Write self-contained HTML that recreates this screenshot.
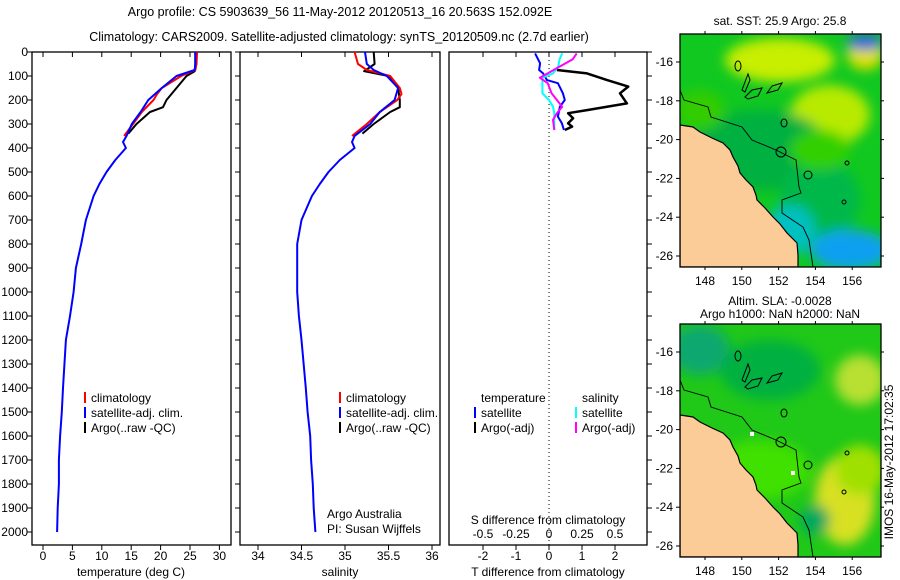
<!DOCTYPE html>
<html><head><meta charset="utf-8"><style>
body{margin:0;background:#fff;}
svg{display:block;font-family:"Liberation Sans",sans-serif;}
</style></head><body>
<svg id="c" width="900" height="580" viewBox="0 0 900 580" xmlns="http://www.w3.org/2000/svg">
<defs>
<clipPath id="mc1"><rect x="680" y="34" width="201" height="233"/></clipPath>
<clipPath id="mc2"><rect x="680" y="324" width="201" height="233"/></clipPath>
<filter id="bl" x="-20%" y="-20%" width="140%" height="140%"><feGaussianBlur stdDeviation="6"/></filter>
</defs>
<text x="340" y="16" font-size="12.5" text-anchor="middle">Argo profile: CS 5903639_56 11-May-2012 20120513_16 20.563S 152.092E</text>
<text x="339" y="41" font-size="12.5" text-anchor="middle">Climatology: CARS2009. Satellite-adjusted climatology: synTS_20120509.nc (2.7d earlier)</text>
<g id="g"></g>
</svg>
<script>
// ---- data ----
const depthBlue=[0,50,75,100,150,200,250,300,350,375,400,450,500,550,600,700,800,900,1000,1100,1200,1400,1500,1600,1700,1800,1900,2000];
const tempSat=[25.9,25.9,25.8,22.7,20.2,17.9,16.6,15.1,14.2,13.6,14.1,12.3,10.8,9.6,8.6,7.3,6.5,5.6,5.2,4.6,3.9,3.4,3.2,2.9,2.7,2.7,2.5,2.4];
const salSat=[35.23,35.25,35.33,35.48,35.61,35.57,35.40,35.29,35.11,35.08,35.11,34.94,34.81,34.71,34.62,34.50,34.45,34.45,34.45,34.47,34.50,34.55,34.57,34.60,34.61,34.63,34.64,34.66];
const depthClim=[0,50,75,100,150,175,200,250,300,350];
const tempClim=[26.2,26.1,25.9,23.5,20.2,19.4,18.8,16.8,15.3,13.8];
const salClim=[35.11,35.15,35.25,35.52,35.63,35.65,35.6,35.4,35.25,35.08];
const depthArgo=[0,50,80,100,150,200,230,250,300,340];
const tempArgo=[25.9,25.9,25.8,24.4,22.7,21.0,20.4,18.2,15.9,14.5];
const salArgo=[35.33,35.34,35.22,35.5,35.61,35.63,35.63,35.52,35.33,35.2];
const dDepthT=[75,89,117,144,172,214,242,255,276,297,311,325];
const dTArgo=[0.24,1.15,1.76,2.4,2.15,2.36,1.15,0.58,0.73,0.58,0.7,0.48];
const dDepthSat=[6,47,75,89,117,130,172,200,228,269,297,325];
const dTSat=[-0.42,-0.27,-0.3,-0.18,-0.06,0.27,0.42,0.48,0.33,0.27,0.39,0.45];
const dDepthS=[6,30,61,89,107,130,172,200,228,255,283,325];
const dSSat=[0.1,0.08,0.07,0.03,-0.05,-0.05,-0.05,0.0,0.03,0.04,0.04,0.04];
const dSArgo=[0.21,0.18,0.08,-0.01,-0.07,-0.01,0.02,0.06,0.1,0.06,0.03,0.04];
const depthTicks=[0,100,200,300,400,500,600,700,800,900,1000,1100,1200,1300,1400,1500,1600,1700,1800,1900,2000];
const tempTicks=[0,5,10,15,20,25,30];
const salTicks=[34,34.5,35,35.5,36];
const tdTicks=[-2,-1,0,1,2];
const sdTicks=[-0.5,-0.25,0,0.25,0.5];
const lonTicks=[148,150,152,154,156];
const latTicks=[-16,-18,-20,-22,-24,-26];

const NS='http://www.w3.org/2000/svg';
const G=document.getElementById('g');
function el(t,a,p){const e=document.createElementNS(NS,t);for(const k in a)e.setAttribute(k,a[k]);(p||G).appendChild(e);return e;}
function txt(x,y,s,anchor,p,fs){const e=el('text',{x:x,y:y,'font-size':fs||12,'text-anchor':anchor||'start'},p);e.textContent=s;return e;}

const TOP=52,BOT=545;
const yD=d=>52+d*0.24;
const xT=v=>43+v*5.88;
const xS=v=>258+(v-34)*87;
const xTd=v=>549+v*33;
const xSd=v=>549+v*132;

function panel(x0,x1,name){
  const r=el('rect',{x:x0,y:TOP,width:x1-x0,height:BOT-TOP,fill:'none',stroke:'#000','stroke-width':1.3});
  
  
  depthTicks.forEach(d=>{el('line',{x1:x0-5,x2:x0,y1:yD(d),y2:yD(d),stroke:'#000'});});
}
function xticks(ticks,f){ticks.forEach(v=>{const x=f(v);el('line',{x1:x,x2:x,y1:TOP,y2:TOP+5,stroke:'#000'});el('line',{x1:x,x2:x,y1:BOT,y2:BOT+5,stroke:'#000'});});}
function line(xs,ds,fx,col,name,w){
  const pts=xs.map((v,i)=>fx(v).toFixed(1)+','+yD(ds[i]).toFixed(1)).join(' ');
  const p=el('polyline',{points:pts,fill:'none',stroke:col,'stroke-width':w||2,'stroke-linejoin':'round'});
  
  
}
const yl=el('g',{});


depthTicks.forEach(d=>txt(28,yD(d)+4,String(d),'end',yl));

panel(32,231,'temperature-panel');
xticks(tempTicks,xT);
tempTicks.forEach(v=>txt(xT(v),560,String(v),'middle'));
txt(131,576,'temperature (deg C)','middle');
line(tempArgo,depthArgo,xT,'#000','temp-argo-line');
line(tempClim,depthClim,xT,'#f00','temp-climatology-line');
line(tempSat,depthBlue,xT,'#00f','temp-satellite-line');

panel(240,440,'salinity-panel');
xticks(salTicks,xS);
salTicks.forEach(v=>txt(xS(v),560,String(v),'middle'));
txt(340,576,'salinity','middle');
line(salArgo,depthArgo,xS,'#000','sal-argo-line');
line(salClim,depthClim,xS,'#f00','sal-climatology-line');
line(salSat,depthBlue,xS,'#00f','sal-satellite-line');
txt(327,518,'Argo Australia','start');
txt(327,533,'PI: Susan Wijffels','start');

function legend(x,y,items,name){
  const g=el('g',{});
  
  
  items.forEach((it,i)=>{const yy=y+i*15;
    if(it[0])el('line',{x1:x,x2:x,y1:yy-10,y2:yy+1,stroke:it[0],'stroke-width':2},g);
    txt(x+6,yy,it[1],'start',g);});
}
legend(85,402,[['#f00','climatology'],['#00f','satellite-adj. clim.'],['#000','Argo(..raw -QC)']],'temp-legend');
legend(340,402,[['#f00','climatology'],['#00f','satellite-adj. clim.'],['#000','Argo(..raw -QC)']],'sal-legend');

el('rect',{x:449,y:TOP,width:198,height:BOT-TOP,fill:'none',stroke:'#000','stroke-width':1.3});
depthTicks.forEach(d=>el('line',{x1:647,x2:652,y1:yD(d),y2:yD(d),stroke:'#000'}));
xticks(tdTicks,xTd);
el('line',{x1:549,x2:549,y1:TOP,y2:BOT,stroke:'#000','stroke-dasharray':'1,3'});
tdTicks.forEach(v=>txt(xTd(v),560,String(v),'middle'));
sdTicks.forEach(v=>txt(xSd(v),538,String(v),'middle'));
txt(548,524,'S difference from climatology','middle');
txt(548,576,'T difference from climatology','middle');
legend(475,402,[[null,'temperature'],['#00f','satellite'],['#000','Argo(-adj)']],'tdiff-legend');
legend(576,402,[[null,'salinity'],['#0ff','satellite'],['#f0f','Argo(-adj)']],'sdiff-legend');
line(dTArgo,dDepthT,xTd,'#000','tdiff-argo-line',2.5);
line(dTSat,dDepthSat,xTd,'#00f','tdiff-satellite-line');
line(dSSat,dDepthS,xSd,'#0ff','sdiff-satellite-line');
line(dSArgo,dDepthS,xSd,'#f0f','sdiff-argo-line');

const mx=lon=>705+(lon-148)*18.4;
function map(off,clip,blobs,base,name,title1,title2,whites){
  const g=el('g',{'clip-path':'url(#'+clip+')'});
  
  
  el('rect',{x:680,y:34+off,width:201,height:233,fill:base},g);
  const bg=el('g',{filter:'url(#bl)'},g);
  blobs.forEach(b=>el('ellipse',{cx:b[0],cy:b[1]+off,rx:b[2],ry:b[3],fill:b[4]},bg));
  const land=[[680,125],[693,127],[700,132],[712,138],[723,143],[730,150],[733,157],[738,166],[740,173],[746,180],[753,187],[756,195],[757,200],[765,208],[773,217],[780,224],[787,233],[793,239],[797,243],[798,255],[798,267],[680,267]];
  el('polygon',{points:land.map(p=>p[0]+','+(p[1]+off)).join(' '),fill:'#fccc98',stroke:'#000','stroke-width':1.2},g);
  const iso=[[680,90],[684,100],[708,107],[711,117],[742,127],[752,140],[776,150],[796,160],[799,187],[801,193],[782,200],[782,213],[803,227],[809,240],[813,267]];
  el('polyline',{points:iso.map(p=>p[0]+','+(p[1]+off)).join(' '),fill:'none',stroke:'#000','stroke-width':0.9},g);
  [[738,66,3,5],[784,123,3,4],[781,152,5,5],[808,175,4,4],[847,163,2,2],[844,202,2,2]].forEach(r=>el('ellipse',{cx:r[0],cy:r[1]+off,rx:r[2],ry:r[3],fill:'none',stroke:'#000'},g));
  el('path',{d:`M742 ${90+off} L748 ${74+off} L750 ${80+off} L745 ${92+off}z M745 ${97+off} L752 ${90+off} L762 ${88+off} L758 ${96+off} L748 ${99+off}z M767 ${93+off} L772 ${86+off} L782 ${83+off} L778 ${90+off}z`,fill:'none',stroke:'#000'},g);
  (whites||[]).forEach(w=>el('rect',{x:w[0],y:w[1]+off,width:4,height:4,fill:'#fff'},g));
  el('rect',{x:680,y:34+off,width:201,height:233,fill:'none',stroke:'#000','stroke-width':1.3});
  lonTicks.forEach(v=>{const x=mx(v);el('line',{x1:x,x2:x,y1:34+off,y2:31+off,stroke:'#000'});el('line',{x1:x,x2:x,y1:267+off,y2:270+off,stroke:'#000'});txt(x,285+off,String(v),'middle');});
  latTicks.forEach(v=>{const y=62+(-16-v)*19.4+off;el('line',{x1:680,x2:676,y1:y,y2:y,stroke:'#000'});el('line',{x1:881,x2:884,y1:y,y2:y,stroke:'#000'});txt(673,y+4,String(v),'end');});
  txt(780,off+(title2?15:25),title1,'middle');
  if(title2)txt(780,off+28,title2,'middle');
}
map(0,'mc1',[
 [780,60,55,22,'#c8ee00'],[830,115,40,30,'#b8ea00'],[865,55,18,15,'#e0e000'],[865,42,18,8,'#2060e0'],
 [760,150,70,40,'#00b040'],[820,200,40,40,'#00b848'],[850,250,40,20,'#10a0f0'],[790,230,25,25,'#00c0c0'],[820,150,30,20,'#30d000'],[700,110,25,20,'#33cc00']
],'#10c820','map-sst','sat. SST: 25.9 Argo: 25.8');
map(290,'mc2',[
 [700,60,30,25,'#10a870'],[770,80,50,30,'#00b040'],[845,210,30,45,'#d8e020'],[860,90,25,25,'#b8e030'],[760,180,50,30,'#40e000'],[815,230,15,15,'#00a860'],[860,180,25,25,'#a0e000']
],'#20c818','map-sla','Altim. SLA: -0.0028','Argo h1000: NaN h2000: NaN',[[750,142],[791,181]]);
const v=txt(0,0,'IMOS 16-May-2012 17:02:35','middle');
v.setAttribute('transform','translate(893,462) rotate(-90)');


</script>
</body></html>
